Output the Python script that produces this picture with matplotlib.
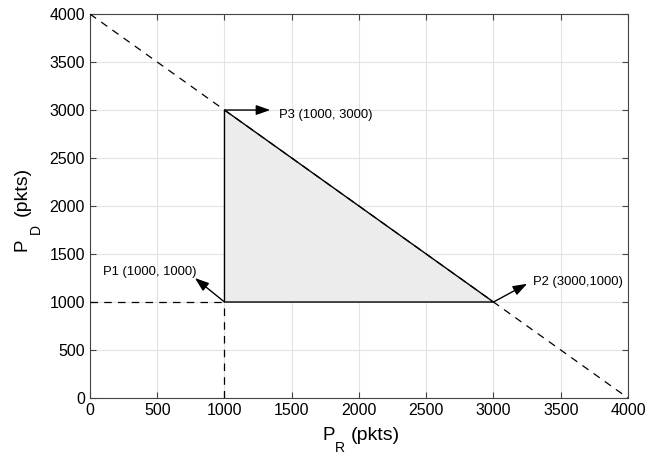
import matplotlib
matplotlib.use("Agg")
import matplotlib.pyplot as plt

plt.rcParams['font.family'] = ['Liberation Sans', 'DejaVu Sans']

# Data
diag_x = [0, 4000]
diag_y = [4000, 0]
tri_x = [1000, 3000, 1000]
tri_y = [1000, 1000, 3000]
hline_x = [0, 1000]
hline_y = [1000, 1000]
vline_x = [1000, 1000]
vline_y = [0, 1000]
points = [(1000, 1000), (3000, 1000), (1000, 3000)]
labels = ['P1 (1000, 1000)', 'P2 (3000,1000)', 'P3 (1000, 3000)']
arrow_ends = [(780, 1250), (3250, 1190), (1340, 3000)]
text_pos = [(95, 1310), (3295, 1205), (1405, 2950)]
ticks = [0, 500, 1000, 1500, 2000, 2500, 3000, 3500, 4000]

W, H = 669, 453
fig = plt.figure(figsize=(W / 100, H / 100), dpi=100)
ax = fig.add_axes([0.1345, 0.1214, 0.8042, 0.8476])

ax.fill(tri_x, tri_y, facecolor='#ececec', edgecolor='black', linewidth=1.0, zorder=2)
dash = (0, (6, 5))
ax.plot(diag_x, diag_y, color='black', linestyle=dash, linewidth=0.9, zorder=3)
ax.plot(hline_x, hline_y, color='black', linestyle=dash, linewidth=0.9, zorder=3)
ax.plot(vline_x, vline_y, color='black', linestyle=dash, linewidth=0.9, zorder=3)

for (px, py), (ex, ey) in zip(points, arrow_ends):
    ax.annotate('', xy=(ex, ey), xytext=(px, py),
                arrowprops=dict(arrowstyle='-|>,head_length=0.85,head_width=0.3',
                                color='black', lw=1.0, shrinkA=0, shrinkB=0),
                zorder=4)
for (tx, ty), lab in zip(text_pos, labels):
    ax.text(tx, ty, lab, fontsize=9.4, va='center', ha='left', zorder=5)

ax.set_xlim(0, 4000)
ax.set_ylim(0, 4000)
ax.set_xticks(ticks)
ax.set_yticks(ticks)
ax.tick_params(direction='in', length=4, labelsize=11.5, color='#444444', width=0.8,
               top=True, right=True)
ax.grid(True, color='#e3e3e3', linewidth=0.8)
ax.set_axisbelow(True)
for s in ax.spines.values():
    s.set_color('#444444')
    s.set_linewidth(0.8)


def ft(x, y, s, size, rot=0):
    fig.text(x / W, 1 - y / H, s, fontsize=size, ha='left', va='baseline',
             rotation=rot, rotation_mode='anchor')


# x label: P_R (pkts)
ft(323, 440, 'P', 13.5)
ft(335, 451.5, 'R', 10)
ft(351, 440, '(pkts)', 14)
# y label: P_D (pkts)
ft(27, 251, 'P', 13.5, 90)
ft(40, 234, 'D', 10, 90)
ft(27, 216, '(pkts)', 14, 90)

fig.savefig('out.png', dpi=100)
